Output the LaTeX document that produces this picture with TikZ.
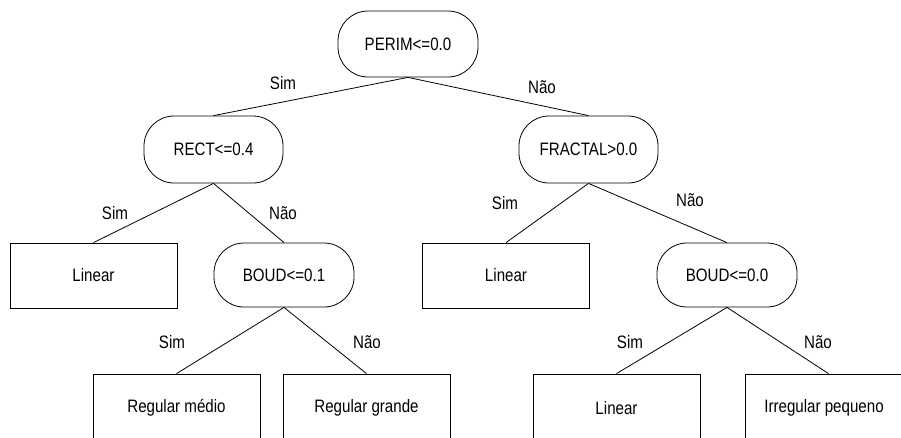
\documentclass[tikz,border=0pt]{standalone}
\usepackage{fontspec}
\setmainfont{Liberation Sans}[FakeStretch=0.84]
\begin{document}
\begin{tikzpicture}[x=1pt,y=-1pt,
  every node/.style={font=\fontsize{18}{21}\selectfont, inner sep=0pt},
  test/.style={draw, line width=0.8pt, rounded corners=30pt, minimum width=140pt, minimum height=66pt},
  leaf/.style={draw, line width=0.8pt, minimum width=167pt, minimum height=65pt},
  edge/.style={line width=0.8pt},
  lbl/.style={}]
\path[use as bounding box] (0,0) rectangle (901,437);
\clip (0,0) rectangle (901,437);
% tests
\node[test] (perim) at (408,44) {PERIM<=0.0};
\node[test, minimum width=139pt, minimum height=67pt] (rect) at (213.5,149.5) {RECT<=0.4};
\node[test, minimum width=139pt, minimum height=67pt] (fractal) at (588.5,149.5) {FRACTAL>0.0};
\node[test, minimum height=64pt] (boud1) at (284,275) {BOUD<=0.1};
\node[test, minimum height=64pt] (boud2) at (727,275) {BOUD<=0.0};
% leaves
\node[leaf] (lin1) at (93.5,275.5) {Linear};
\node[leaf] (lin2) at (506,275.5) {Linear};
\node[leaf] (regm) at (176.5,406.5) {};
\node[leaf] (regg) at (366.5,406.5) {};
\node[leaf] (lin3) at (616.5,406.5) {};
\node[leaf] (irr) at (828.5,406.5) {};
\node (tregm) at (176.5,408) {Regular médio};
\node (tregg) at (366.5,408) {Regular grande};
\node (tlin3) at (616.5,408) {Linear};
\node (tirr) at (824,408) {Irregular pequeno};
% edges
\draw[edge] (perim.south) -- (rect.north);
\draw[edge] (perim.south) -- (fractal.north);
\draw[edge] (rect.south) -- (lin1.north);
\draw[edge] (rect.south) -- (boud1.north);
\draw[edge] (fractal.south) -- (lin2.north);
\draw[edge] (fractal.south) -- (boud2.north);
\draw[edge] (boud1.south) -- (regm.north);
\draw[edge] (boud1.south) -- (regg.north);
\draw[edge] (boud2.south) -- (lin3.north);
\draw[edge] (boud2.south) -- (irr.north);
% labels
\node[lbl] (l1) at (283,83) {Sim};
\node[lbl] (l2) at (542,87) {Não};
\node[lbl] (l3) at (115,213) {Sim};
\node[lbl] (l4) at (283,213) {Não};
\node[lbl] (l5) at (505,203) {Sim};
\node[lbl] (l6) at (690,200) {Não};
\node[lbl] (l7) at (172,342) {Sim};
\node[lbl] (l8) at (367,342) {Não};
\node[lbl] (l9) at (630,342) {Sim};
\node[lbl] (l10) at (818,342) {Não};
\end{tikzpicture}
\end{document}
